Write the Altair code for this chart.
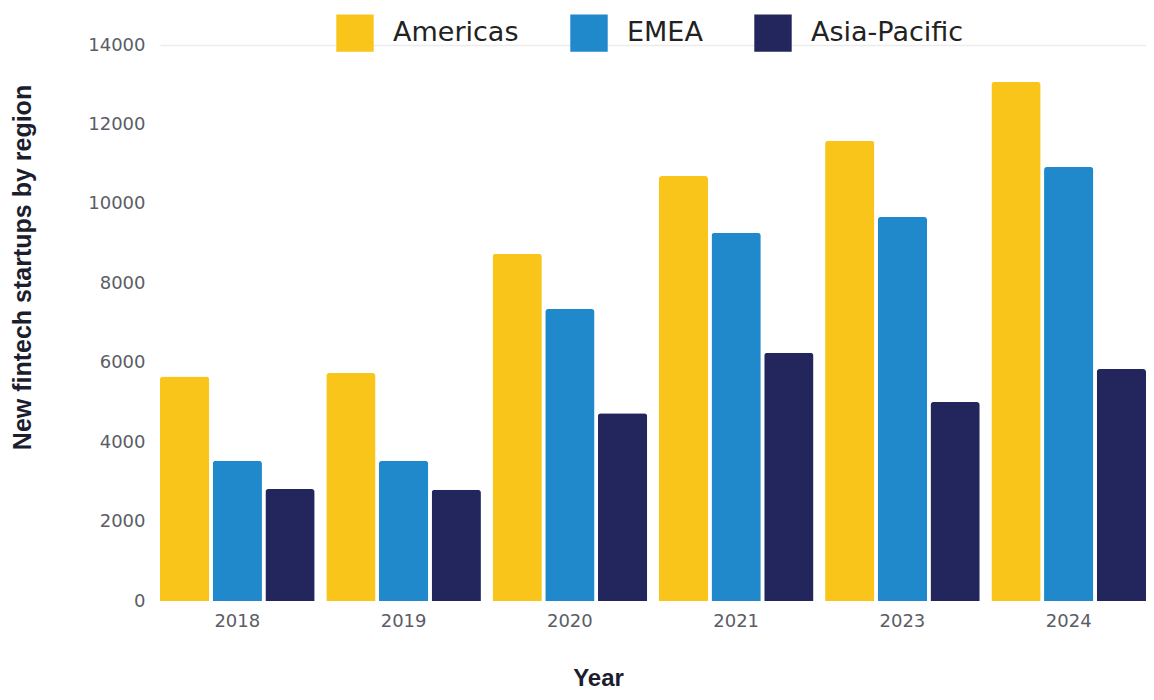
import altair as alt
import pandas as pd

years = ["2018", "2019", "2020", "2021", "2023", "2024"]
regions = ["Americas", "EMEA", "Asia-Pacific"]
americas = [5650, 5740, 8740, 10700, 11590, 13070]
emea = [3530, 3530, 7350, 9270, 9670, 10930]
apac = [2820, 2800, 4730, 6250, 5010, 5840]
colors = ["#F9C51A", "#2089CB", "#22265C"]
y_ticks = [0, 2000, 4000, 6000, 8000, 10000, 12000, 14000]

rows = []
for i, yr in enumerate(years):
    for reg, vals in zip(regions, [americas, emea, apac]):
        rows.append({"Year": yr, "Region": reg, "Value": vals[i]})
df = pd.DataFrame(rows)

chart = (
    alt.Chart(df)
    .mark_bar(cornerRadiusTopLeft=3, cornerRadiusTopRight=3)
    .encode(
        x=alt.X(
            "Year:N",
            sort=years,
            scale=alt.Scale(paddingInner=0.07, paddingOuter=0),
            axis=alt.Axis(
                title="Year",
                labelAngle=0,
                domain=False,
                ticks=False,
                labelPadding=11,
                labelFont="DejaVu Sans",
                labelFontSize=18,
                labelColor="#5a5d66",
                titleFont="Liberation Sans",
                titleFontSize=24,
                titleFontWeight="bold",
                titleColor="#1c1d2e",
                titleX=438,
                titleY=77,
                titleBaseline="middle",
                titleAlign="center",
            ),
        ),
        xOffset=alt.XOffset(
            "Region:N",
            sort=regions,
            scale=alt.Scale(paddingInner=0.065, paddingOuter=0),
        ),
        y=alt.Y(
            "Value:Q",
            scale=alt.Scale(domain=[0, 14000], nice=False),
            axis=alt.Axis(
                title="New fintech startups by region",
                values=y_ticks,
                format="d",
                domain=False,
                ticks=False,
                labelPadding=15,
                labelFont="DejaVu Sans",
                labelFontSize=18,
                labelColor="#5a5d66",
                grid=True,
                gridColor="#ececec",
                gridWidth=1.5,
                gridOpacity={"condition": {"test": "datum.value === 14000", "value": 1}, "value": 0},
                titleFont="Liberation Sans",
                titleFontSize=25,
                titleFontWeight="bold",
                titleColor="#1c1d2e",
                titleAngle=-90,
                titleX=-138,
                titleY=222,
                titleBaseline="middle",
                titleAlign="center",
            ),
        ),
        color=alt.Color(
            "Region:N",
            sort=regions,
            scale=alt.Scale(domain=regions, range=colors),
            legend=alt.Legend(
                title=None,
                orient="none",
                direction="horizontal",
                legendX=176,
                legendY=-31,
                symbolType="square",
                symbolSize=1400,
                symbolStrokeWidth=0,
                symbolOpacity=1,
                labelFont="DejaVu Sans",
                labelFontSize=27,
                labelColor="#222222",
                labelOffset=19,
                columnPadding=51,
            ),
        ),
    )
    .properties(
        width=986,
        height=556,
        autosize=alt.AutoSizeParams(type="none"),
        padding={"left": 152, "top": 37, "right": 0, "bottom": 90},
    )
    .configure_view(stroke=None)
)

chart.save("out.html", embed_options={"renderer": "svg", "actions": False})
